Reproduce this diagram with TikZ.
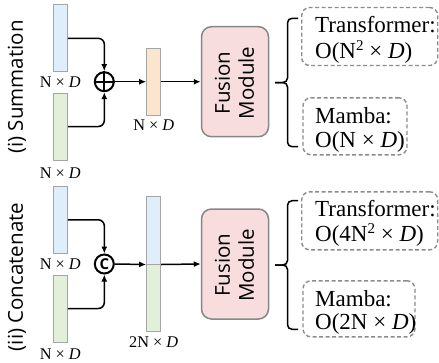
\documentclass[tikz,border=0pt]{standalone}
\usepackage{fontspec}
\setmainfont{Liberation Serif}
\setsansfont{Open Sans}
\usetikzlibrary{arrows.meta,calc}
\definecolor{cblue}{RGB}{222,238,250}
\definecolor{cgreen}{RGB}{226,240,218}
\definecolor{corange}{RGB}{252,229,205}
\definecolor{cpink}{RGB}{247,221,222}
\definecolor{barline}{RGB}{165,165,165}
\definecolor{fusline}{RGB}{135,135,135}
\definecolor{dashline}{RGB}{140,140,140}
\newcommand{\supTwo}{\raisebox{0.36em}{\fontsize{15}{15}\selectfont 2}}
\begin{document}
\begin{tikzpicture}[x=1pt,y=-1pt,
  bar/.style={draw=barline, line width=1pt, minimum width=14pt, inner sep=0pt},
  fusion/.style={draw=fusline, fill=cpink, line width=1.5pt, rounded corners=10pt, minimum width=67pt, minimum height=110pt, inner sep=0pt},
  ftxt/.style={font=\sffamily\fontsize{20.5}{24}\selectfont, align=center, rotate=90, inner sep=0pt},
  side/.style={font=\sffamily\fontsize{20.5}{24}\selectfont, rotate=90, inner sep=0pt},
  dim/.style={font=\fontsize{16.3}{18}\selectfont, inner sep=0pt},
  cx/.style={font=\fontsize{23}{26}\selectfont, inner sep=0pt, anchor=base west, text height=14pt, text depth=2pt},
  dbox/.style={draw=dashline, dash pattern=on 4pt off 2.5pt, line width=1.4pt, rounded corners=8pt, inner sep=0pt},
  arr/.style={line width=1.5pt, -{Latex[length=7pt,width=6pt]}},
  op/.style={circle, draw, line width=2pt, minimum size=19pt, inner sep=0pt},
  brc/.style={line width=1.5pt, rounded corners=4.5pt}
]
\useasboundingbox (0,0) rectangle (439,362);

% ---------- (i) Summation ----------
\node[side] (lab1) at (17,87) {(i) Summation};
\node[bar, fill=cblue, minimum height=67pt] (b1) at (60.3,38.3) {};
\node[bar, fill=cgreen, minimum height=67pt] (g1) at (60.3,126.5) {};
\node[dim] (lb1) at (60.3,81.7) {N × \textit{D}};
\node[dim] (lg1) at (60.3,173) {N × \textit{D}};
\node[op] (sum) at (104.3,81.7) {};
\draw[line width=2pt] (sum.north) -- (sum.south) (sum.west) -- (sum.east);
\node[bar, fill=corange, minimum height=67pt] (o1) at (153.7,81.7) {};
\node[dim] (lo1) at (153.7,125) {N × \textit{D}};
\node[fusion] (fm1) at (235,81.7) {};
\node[ftxt] (fm1t) at (234.5,83) {Fusion\\Module};

\draw[arr, rounded corners=6pt] (b1.east) -| (sum.north);
\draw[arr, rounded corners=6pt] (g1.east) -| (sum.south);
\draw[arr] (sum.east) -- (o1.west);
\draw[arr] (o1.east) -- (fm1.west);

\coordinate (br1t) at (298,18.3);
\coordinate (br1m) at (287.5,82.5);
\coordinate (br1b) at (298,146.7);
\coordinate (br1tip) at (275,82.5);
\draw[brc] (br1t) -| (br1m) -- (br1tip);
\draw[brc] (br1b) -| (br1m) -- (br1tip);

\node[dbox, minimum width=136pt, minimum height=58pt] (t1) at (369.7,36.5) {};
\node[cx] (t1a) at (315,32.8) {Transformer:};
\node[cx] (t1b) at (315,58.3) {O(N\supTwo{} × \textit{D})};
\node[dbox, minimum width=104pt, minimum height=57pt] (m1) at (355,126.3) {};
\node[cx] (m1a) at (315,123.3) {Mamba:};
\node[cx] (m1b) at (315,147.3) {O(N × \textit{D})};

% ---------- (ii) Concatenate ----------
\node[side] (lab2) at (17,277) {(ii) Concatenate};
\node[bar, fill=cblue, minimum height=67.5pt] (b2) at (60.3,219.8) {};
\node[bar, fill=cgreen, minimum height=67pt] (g2) at (60.3,308.5) {};
\node[dim] (lb2) at (60.3,264) {N × \textit{D}};
\node[dim] (lg2) at (60.3,354) {N × \textit{D}};
\node[op, font=\sffamily\bfseries\fontsize{15}{15}\selectfont] (cc) at (104.3,264) {C};
\node[bar, fill=cblue, minimum height=67.5pt] (cb) at (153.7,230.25) {};
\node[bar, fill=cgreen, minimum height=67.5pt] (cg) at (153.7,297.75) {};
\node[dim] (lc2) at (153.7,342) {2N × \textit{D}};
\node[fusion] (fm2) at (235,264) {};
\node[ftxt] (fm2t) at (234.5,265.3) {Fusion\\Module};

\draw[arr, rounded corners=6pt] (b2.east) -| (cc.north);
\draw[arr, rounded corners=6pt] (g2.east) -| (cc.south);
\draw[arr] (cc.east) -- (cb.south west);
\draw[arr] (cb.south east) -- (fm2.west);

\coordinate (br2t) at (298,200.7);
\coordinate (br2m) at (287.5,265);
\coordinate (br2b) at (298,329.3);
\coordinate (br2tip) at (275,265);
\draw[brc] (br2t) -| (br2m) -- (br2tip);
\draw[brc] (br2b) -| (br2m) -- (br2tip);

\node[dbox, minimum width=136pt, minimum height=58pt] (t2) at (369.7,220.8) {};
\node[cx] (t2a) at (315,216.2) {Transformer:};
\node[cx] (t2b) at (315,241.8) {O(4N\supTwo{} × \textit{D})};
\node[dbox, minimum width=112pt, minimum height=56pt] (m2) at (359,308.8) {};
\node[cx] (m2a) at (315,306) {Mamba:};
\node[cx] (m2b) at (315,329.5) {O(2N × \textit{D})};
\end{tikzpicture}
\end{document}
